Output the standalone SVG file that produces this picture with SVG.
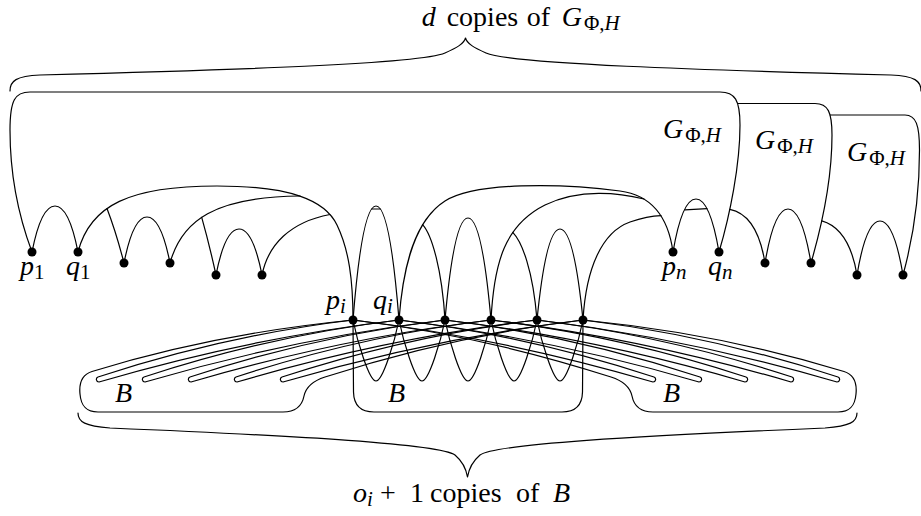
<svg xmlns="http://www.w3.org/2000/svg" width="921" height="516" viewBox="0 0 921 516">
<style>
.e{fill:none;stroke:#000;stroke-width:1.2;stroke-linejoin:round;stroke-linecap:round}
.n{fill:#000}
text{font-family:"Liberation Serif","Times New Roman",serif;font-size:28px;fill:#000}
.i{font-style:italic}
.s{font-size:21px}
</style>
<defs>
<path id="hp" d="M 0,0 Q -127.5,15.3 -255,57 A 2.6 2.6 0 0 0 -254,62 Q -104,18 46,0"/>
</defs>
<rect width="921" height="516" fill="#fff"/>

<g id="braces" class="e">
<path d="M 10,91 C 10,81 16,76 40,75 C 230,70 420,64 445,53 C 456,48 464,44 465.5,38 C 467,44 475,48 486,53 C 511,64 701,70 891,75 C 915,76 921,81 921,91"/>
<path d="M 78,413 C 78,422 85,426 110,428 C 300,436 440,444 455,455 C 462,461 466,468 467.5,477 C 469,468 473,461 480,455 C 495,444 635,436 825,428 C 850,426 857,422 857,413"/>
</g>

<g id="G-copies" class="e">
<path d="M 32,252 C 20,220 10,180 10,130 C 10,100 15,92 30,92 L 720,92 C 735,92 740,100 740,125 C 740,165 730,215 719,252"/>
<path d="M 811,263 C 822,225 832,180 832,135 C 832,112 828,103.5 815,103.5 L 737.6,103.5"/>
<path d="M 903,275 C 914,235 919.5,190 919.5,150 C 919.5,125 916,115 905,115 L 830.2,115"/>
</g>

<g id="B-left" class="e">
<path d="M 353,320 Q 213,334 92,371.5 C 82,374.6 79,384 80,394 C 81,406 86,412 98,412 L 283,412 C 296,412 302,406 304,396 C 306,387 314,380.5 325,377 Q 454,335.5 583,320"/>
<use href="#hp" transform="translate(353,320)"/>
<use href="#hp" transform="translate(399,320)"/>
<use href="#hp" transform="translate(445,320)"/>
<use href="#hp" transform="translate(491,320)"/>
<use href="#hp" transform="translate(537,320)"/>
</g>
<g id="B-right" class="e">
<use href="#B-left" transform="matrix(-1 0 0 1 936 0)"/>
</g>
<g id="B-middle" class="e">
<path d="M 353,320 C 357,340 369,381 376,381 C 383,381 395,340 399,320 C 403,340 415,381 422,381 C 429,381 441,340 445,320 C 449,340 461,381 468,381 C 475,381 487,340 491,320 C 495,340 507,381 514,381 C 521,381 533,340 537,320 C 541,340 553,381 560,381 C 567,381 579,340 583,320 L 582.5,392 Q 582,412 562,412 L 374,412 Q 354,412 353.5,392 Z"/>
</g>

<g id="connectors" class="e">
<path d="M 32,252 C 38,221.6 46,206 55,206 C 64,206 72,221.6 78,252"/>
<path d="M 124,263 C 130,232.6 138,217 147,217 C 156,217 164,232.6 170,263"/>
<path d="M 216,275 C 222,244.6 230,229 239,229 C 248,229 256,244.6 262,275"/>
<path d="M 353,320 C 359,244.8 367,206 376,206 C 385,206 393,244.8 399,320"/>
<path d="M 371.8,209 L 380.2,209"/>
<path d="M 445,320 C 451,252.7 459,218 468,218 C 477,218 485,252.7 491,320"/>
<path d="M 537,320 C 543,260 551,229 560,229 C 569,229 577,260 583,320"/>
<path d="M 673,252 C 679,217 687,199 696,199 C 705,199 713,217 719,252"/>
<path d="M 685,209.8 L 707,208.6"/>
<path d="M 765,263 C 771,227.4 779,209 788,209 C 797,209 805,227.4 811,263"/>
<path d="M 857,275 C 863,239.4 871,221 880,221 C 889,221 897,239.4 903,275"/>
<path d="M 78,252 C 90,205 130,186 217,186 C 290,186 325,200 337,225 C 349,250 353,280 353,320"/>
<path d="M 107,208.5 Q 116,232 124,263"/>
<path d="M 170,263 C 182,220 215,197 300,196"/>
<path d="M 201.7,217.3 Q 209,243 216,275"/>
<path d="M 262,275 C 268,245 290,222 330,214.5"/>
<path d="M 399,320 C 403,265 415,220 445,201 C 475,182 560,183 620,191 C 650,195 668,215 673,252"/>
<path d="M 422.6,224.6 C 432,235 442,270 445,320"/>
<path d="M 491,320 C 494,262 505,225 545,205 C 580,188 620,193 644,199"/>
<path d="M 512.8,232.4 C 522,242 533,270 537,320"/>
<path d="M 583,320 C 586,268 602,232 630,222 C 642,218 652,216 661,215.7"/>
<path d="M 729.8,209.4 C 748,213 760,232 765,263"/>
<path d="M 821.8,220.8 C 840,226 852,245 857,275"/>
</g>

<g id="p1"><circle class="n" cx="32" cy="252" r="4.5"/><text x="20" y="275"><tspan class="i">p</tspan><tspan class="s" dy="4">1</tspan></text></g>
<g id="q1"><circle class="n" cx="78" cy="252" r="4.5"/><text x="66" y="275"><tspan class="i">q</tspan><tspan class="s" dy="4">1</tspan></text></g>
<g id="v13"><circle class="n" cx="124" cy="263" r="4.5"/></g>
<g id="v14"><circle class="n" cx="170" cy="263" r="4.5"/></g>
<g id="v15"><circle class="n" cx="216" cy="275" r="4.5"/></g>
<g id="v16"><circle class="n" cx="262" cy="275" r="4.5"/></g>

<g id="pi"><circle class="n" cx="353" cy="320" r="4.5"/><text x="326" y="309"><tspan class="i">p</tspan><tspan class="i s" dy="4">i</tspan></text></g>
<g id="qi"><circle class="n" cx="399" cy="320" r="4.5"/><text x="373" y="309"><tspan class="i">q</tspan><tspan class="i s" dy="4">i</tspan></text></g>
<g id="vi3"><circle class="n" cx="445" cy="320" r="4.5"/></g>
<g id="vi4"><circle class="n" cx="491" cy="320" r="4.5"/></g>
<g id="vi5"><circle class="n" cx="537" cy="320" r="4.5"/></g>
<g id="vi6"><circle class="n" cx="583" cy="320" r="4.5"/></g>

<g id="pn"><circle class="n" cx="673" cy="252" r="4.5"/><text x="662" y="275"><tspan class="i">p</tspan><tspan class="i s" dy="4">n</tspan></text></g>
<g id="qn"><circle class="n" cx="719" cy="252" r="4.5"/><text x="708" y="275"><tspan class="i">q</tspan><tspan class="i s" dy="4">n</tspan></text></g>
<g id="vn3"><circle class="n" cx="765" cy="263" r="4.5"/></g>
<g id="vn4"><circle class="n" cx="811" cy="263" r="4.5"/></g>
<g id="vn5"><circle class="n" cx="857" cy="275" r="4.5"/></g>
<g id="vn6"><circle class="n" cx="903" cy="275" r="4.5"/></g>

<g id="labels">
<text x="663" y="138"><tspan class="i">G</tspan><tspan class="s" dx="2" dy="4">Φ,</tspan><tspan class="i s">H</tspan></text>
<text x="755" y="149"><tspan class="i">G</tspan><tspan class="s" dx="2" dy="4">Φ,</tspan><tspan class="i s">H</tspan></text>
<text x="847" y="161"><tspan class="i">G</tspan><tspan class="s" dx="2" dy="4">Φ,</tspan><tspan class="i s">H</tspan></text>
<text x="115" y="402" class="i">B</text>
<text x="388" y="402" class="i">B</text>
<text x="663" y="402" class="i">B</text>
<text y="26"><tspan class="i" x="421.7">d</tspan><tspan x="446.7">copies</tspan><tspan x="526.7">of</tspan><tspan class="i" x="561.7">G</tspan><tspan class="s" dx="2" dy="4">Φ,</tspan><tspan class="i s">H</tspan></text>
<text y="502"><tspan class="i" x="353">o</tspan><tspan class="i s" dy="4">i</tspan><tspan x="380" dy="-4">+</tspan><tspan x="410">1</tspan><tspan x="430">copies</tspan><tspan x="516">of</tspan><tspan class="i" x="553">B</tspan></text>
</g>
</svg>
